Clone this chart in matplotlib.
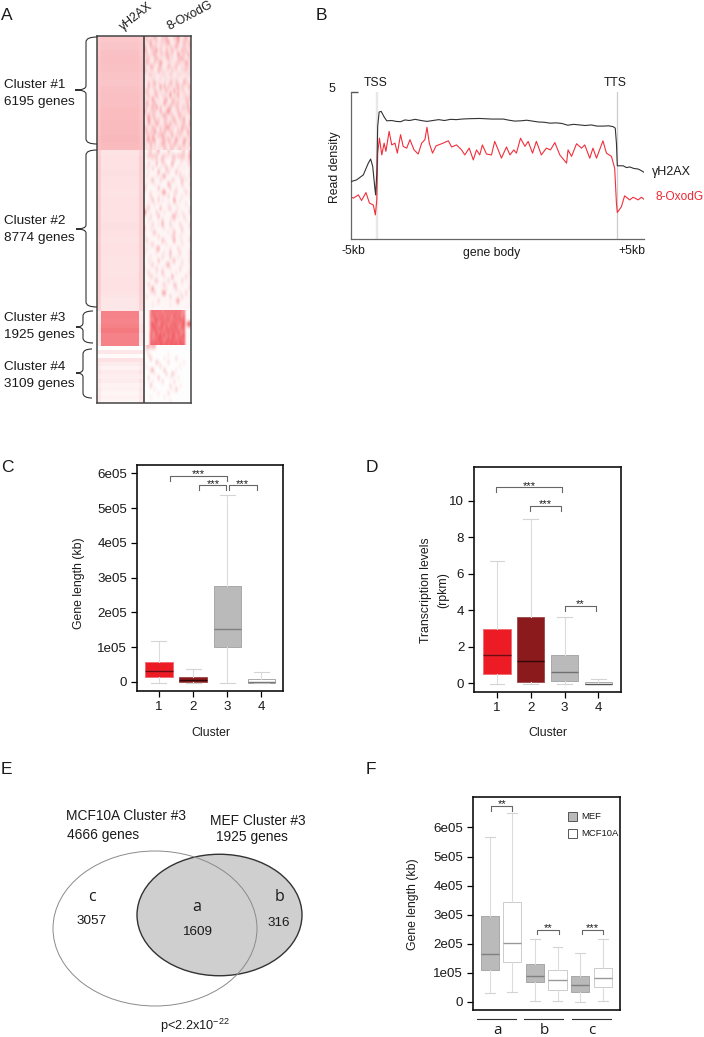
import numpy as np
import matplotlib
matplotlib.use('Agg')
import matplotlib.pyplot as plt
from matplotlib.colors import LinearSegmentedColormap
from matplotlib.patches import Ellipse, PathPatch, Rectangle
from matplotlib.path import Path

plt.rcParams['font.family'] = ['Liberation Sans', 'DejaVu Sans']
plt.rcParams['mathtext.default'] = 'regular'

# ---------- data ----------
cluster_names = ['Cluster #1', 'Cluster #2', 'Cluster #3', 'Cluster #4']
cluster_genes = [6195, 8774, 1925, 3109]
oxo_base = [.09, .04, .03, .01]

gamma_body = [
    [.26,.27,.29,.30,.29,.28,.27,.29,.30,.30,.31,.31,.32,.32,.33,.32],
    [.13,.14,.14,.15,.14,.14,.13,.14,.14,.14,.14,.15,.14,.13,.14,.14,.13,.13,.13,.14,.14,.13,.12,.12],
    [.58,.58,.57,.59,.62,.58,.58,.58],
    [.0,.12,.02,.14,.09,.06,.10,.08,.09,.06,.07,.05,.06,.05],
]
gamma_edge = [
    [.24,.25,.26,.27,.27,.26,.26,.27,.28,.27,.28,.28,.29,.29,.30,.30],
    [.20,.22,.23,.23,.23,.22,.22,.23,.23,.22,.23,.23,.23,.22,.23,.23,.22,.22,.23,.23,.23,.22,.21,.20],
    [.10,.12,.12,.14,.15,.12,.12,.10],
    [.0,.12,.02,.14,.12,.10,.13,.10,.13,.10,.12,.10,.12,.10],
]
oxo_rows = [[
    "120113100213000215001301","011300201112400013012112","200312001101020131002103",
    "310021402002103010031201","020113001203111004102031","112001310001301001231002",
    "031002014100010012101320","100320012000310120010211","210010031101002010011201",
    "001201000110020001100011","100010001001001010001100","002013010010031021003110",
    "003011004030201013020013","120002101003010402011001","012001300110050013001102",
    "101040010013001201010212","031013000041003112000120","020130402000130021012030",
    "300112003002510003010113","013021000231012001301001","014103020012001300113001",
    "003100410021030120012004","210031002013401001031201","030204102030021002120031",
    "012030021401003010200012","024033000130310041003201","100301001320020310013003",
    "010201010021012001201010"],[
    "001200130000210000012003","012222200221102212222015","000010201300001200020103",
    "002000300120004000100012","010020001003010001001001","001000040001200030100001",
    "010000100240000000201002","000130002000002100030100","010001000000410000020002",
    "200000030000020010001000","000100000350000120000201","000200010000200100010001",
    "000030020100000500100000","001001000000100010000100","012000003000120001000001",
    "600000200010000020010002","000200030000002401002000","001000000200010100000100",
    "000020010400020000200002","200100000010001000020001","000013000000100300010000",
    "100000020000002100100001","020000000310000400010002","000120000001000000010000",
    "010000240000010002000001","100000100010030000200002","000100000200020001000001",
    "001000030000001300010002","000120000002400000010001","100000200100010000200001",
    "002000100300000010000002","000210000010004000000201","000001300000200000020001",
    "002000000120000310000001","000150000001000020000002","000102000350000000100200",
    "010000000000020000020001","000000020000000025000000","000010000000010000000001",
    "000000000000000000000000"],[
    "000565656465656565645000","000657465746564756546000","000546756565746565757000",
    "000675645756465756467188","000567566647566574566000","000655746565756657546000",
    "000745667574656746567000","000656576646757565756000",
    "000766757667576675767000"],[
    "033233000000000000000000","010000000000000000000000","002000000000100000000000",
    "000300000010000020000000","000000310000200000001000","010000002000000000100000",
    "000240000030000010000000","000001000002003100000000","002000030000010001000000",
    "000010000200000200000000","000300000000020000100000","000001000000001030000000",
    "000000010000200000000000","000100000010000000000000","000000000000010000000000"]]

prof_x_black = [0,2,4.3,6,6.8,7.5,8.3,8.5,8.9,9.2,9.7,10.4,11.4,12.3,14,15.5,17,18.5,
                20,22,24,26,28,30,32,34,36,38,40,44,48,52,54,56,58,60,62,64,66,68,70,
                72,74,76,78,80,82,84,86,88,89.5,90.2,90.6,90.9,92.9,94,95.2,96.5,98,99,100]
prof_y_black = [1.95,2.01,2.18,2.58,2.72,2.47,1.67,1.50,2.24,3.83,4.32,4.34,4.15,4.02,4.03,4.00,3.99,
                4.05,4.03,4.07,4.03,4.00,4.03,4.06,4.03,4.07,4.06,4.08,4.09,4.10,4.08,4.08,4.04,4.01,
                4.02,4.04,4.01,3.98,3.97,3.94,3.95,3.93,3.87,3.90,3.88,3.86,3.88,3.84,3.84,3.85,3.82,
                3.77,3.26,2.49,2.49,2.43,2.45,2.40,2.38,2.33,2.27]
prof_x_red = [0,.9,2.6,3.7,5.2,6.4,7.7,8.4,8.9,9.2,9.8,10.6,11.4,12.0,13.1,14.0,15.1,15.9,17.0,17.9,
              19.1,20.2,21.6,23.0,24.2,25.3,26.0,26.8,27.9,29.1,31.0,33.3,34.4,36.1,37.8,38.9,40.4,
              41.8,42.9,44.0,44.9,46.3,48.0,49.1,50.3,51.4,53.1,54.3,55.6,56.5,57.9,59.4,60.5,62.0,
              63.3,65.0,66.7,68.1,69.6,71.3,73.6,74.1,75.3,77.0,78.7,79.8,81.5,82.6,83.8,86.0,87.2,
              88.9,90.0,90.6,90.9,92.3,93.4,95.1,96.3,98.0,99.1,100]
prof_y_red = [1.44,1.39,1.50,1.31,1.58,1.22,1.16,.82,1.33,2.92,3.43,2.86,3.26,2.98,3.66,3.20,3.26,2.92,3.55,3.15,
              3.09,3.38,3.03,2.89,3.26,3.38,3.80,3.26,2.92,3.17,3.24,3.34,3.13,3.20,3.03,2.86,3.09,
              2.69,3.03,2.86,3.20,2.89,2.86,3.32,3.03,2.75,3.13,2.86,3.03,2.92,3.43,3.15,3.32,2.92,
              3.32,2.86,3.09,3.03,3.28,2.86,2.58,3.03,2.81,3.24,3.09,3.20,2.75,3.09,2.75,3.34,2.92,
              2.81,2.41,1.22,.90,1.10,1.47,1.33,1.42,1.33,1.42,1.35]

c_lo = [-4e3,-4e3,-4e3,-4e3]
c_q1 = [1.5e4,0,1.0e5,-2e3]
c_med = [3.2e4,7e3,1.53e5,1e3]
c_q3 = [5.6e4,1.5e4,2.75e5,9e3]
c_hi = [1.18e5,3.8e4,5.38e5,2.9e4]

d_lo = [-.07,-.07,-.07,-.07]
d_q1 = [.47,.05,.12,-.07]
d_med = [1.52,1.2,.63,-.07]
d_q3 = [2.97,3.6,1.52,.03]
d_hi = [6.7,9.0,3.6,.22]

f_lo = [3.2e4,3.3e4,2e3,2e3,0,2e3]
f_q1 = [1.1e5,1.36e5,7e4,4e4,3.3e4,5e4]
f_med = [1.66e5,2.04e5,8.8e4,7.4e4,5.7e4,8.1e4]
f_q3 = [2.94e5,3.42e5,1.3e5,1.1e5,8.8e4,1.18e5]
f_hi = [5.66e5,6.5e5,2.18e5,1.9e5,1.7e5,2.18e5]

venn_labels = ['c', 'a', 'b']
venn_counts = ['3057', '1609', '316']
e_ticks = [0, 1e5, 2e5, 3e5, 4e5, 5e5, 6e5]
e_ticklabels = ['0', '1e05', '2e05', '3e05', '4e05', '5e05', '6e05']

# ---------- layout ----------
W, H = 704, 1037
fig = plt.figure(figsize=(W/100, H/100), dpi=100, facecolor='white')
TXT = '#1a1a1a'
FS = 9.6

def axpx(l, t, r, b, **kw):
    return fig.add_axes([l/W, 1-b/H, (r-l)/W, (b-t)/H], **kw)

# Panel A
cm = LinearSegmentedColormap.from_list('wr', ['#ffffff', '#ee2832'])
axA = axpx(97, 36, 191, 403)
axA.set_xlim(0, 94)
axA.set_ylim(sum(cluster_genes), 0)
top = 0
for i, n in enumerate(cluster_genes):
    g = n/len(gamma_body[i])
    ye = top + g*np.arange(len(gamma_body[i])+1)
    vals = np.column_stack([gamma_edge[i], gamma_body[i], gamma_edge[i]])
    axA.pcolormesh([0, 4, 42, 47], ye, vals, cmap=cm, vmin=0, vmax=1, shading='flat', lw=0)
    ox = oxo_base[i] + np.array([[int(c) for c in s.ljust(24, '0')[:24]] for s in oxo_rows[i]])/9
    axA.imshow(ox, cmap=cm, vmin=0, vmax=1, extent=[47, 94, top+n, top],
               aspect='auto', interpolation='bicubic')
    top += n
axA.set_xlim(0, 94)
axA.set_ylim(sum(cluster_genes), 0)
axA.axvline(47, color='#333333', lw=1.1)
axA.set_xticks([]); axA.set_yticks([])
for s in axA.spines.values():
    s.set_color('#444444'); s.set_linewidth(1.1)

# Panel B
axB = axpx(350.7, 92, 644, 239)
axB.set_xlim(0, 100); axB.set_ylim(0, 5)
axB.axvline(9.0, color='#e8e8e8', lw=1.7, zorder=1)
axB.axvline(90.9, color='#cccccc', lw=.9, zorder=1)
axB.plot(prof_x_black, prof_y_black, color='#333333', lw=.8, zorder=3)
axB.plot(prof_x_red, prof_y_red, color='#f0303c', lw=.8, zorder=2)
axB.set_xticks([])
axB.set_yticks([5]); axB.set_yticklabels([''])
axB.tick_params(axis='y', direction='in', length=5, color='#555555', width=1)
axB.spines['top'].set_visible(False); axB.spines['right'].set_visible(False)
for s in ['left', 'bottom']:
    axB.spines[s].set_color('#666666'); axB.spines[s].set_linewidth(.9)

def boxes(ax, lo, q1, med, q3, hi, fc, ec, mc, pos, width=.8):
    st = [dict(whislo=a, q1=b, med=c, q3=d, whishi=e, fliers=[])
          for a, b, c, d, e in zip(lo, q1, med, q3, hi)]
    r = ax.bxp(st, positions=pos, widths=width, patch_artist=True, showfliers=False,
               capwidths=width*.55, manage_ticks=False)
    for i, b in enumerate(r['boxes']):
        b.set_facecolor(fc[i]); b.set_edgecolor(ec[i]); b.set_linewidth(.7)
    for i, m in enumerate(r['medians']):
        m.set_color(mc[i]); m.set_linewidth(1.0)
    for w in r['whiskers']:
        w.set_color('#dcdcdc'); w.set_linewidth(.8); w.set_linestyle('-')
    for c in r['caps']:
        c.set_color('#d4d4d4'); c.set_linewidth(.8)

def frame(ax):
    for s in ax.spines.values():
        s.set_linewidth(1.2); s.set_color('#111111')
    ax.tick_params(length=4, width=.9, labelsize=FS, labelcolor=TXT, pad=3)

# Panel C
axC = axpx(137, 465, 283, 691)
boxes(axC, c_lo, c_q1, c_med, c_q3, c_hi,
      ['#ed1c24', '#8b1a1c', '#bababa', '#ffffff'], ['#f07078', '#a05050', '#a8a8a8', '#aaaaaa'],
      ['#6a1015', '#300808', '#808080', '#777777'], [1, 2, 3, 4])
axC.set_xlim(.357, 4.63); axC.set_ylim(-.26e5, 6.24e5)
axC.set_xticks([1, 2, 3, 4]); axC.set_yticks(e_ticks); axC.set_yticklabels(e_ticklabels)
frame(axC)

# Panel D
axD = axpx(474, 467, 621, 692)
boxes(axD, d_lo, d_q1, d_med, d_q3, d_hi,
      ['#ed1c24', '#8b1a1c', '#bababa', '#ffffff'], ['#f07078', '#a05050', '#a8a8a8', '#aaaaaa'],
      ['#6a1015', '#300808', '#707070', '#555555'], [1, 2, 3, 4])
axD.set_xlim(1-23/33.8, 1+124/33.8); axD.set_ylim(-9/18.2, 216/18.2)
axD.set_xticks([1, 2, 3, 4]); axD.set_yticks([0, 2, 4, 6, 8, 10])
frame(axD)

# Panel F
axF = axpx(473, 797, 620, 1010)
boxes(axF, f_lo, f_q1, f_med, f_q3, f_hi,
      ['#bababa', '#ffffff']*3, ['#a8a8a8', '#cccccc']*3, ['#808080', '#999999']*3,
      [1, 2, 3, 4, 5, 6])
axF.set_xlim(1-16.7/22.6, 1+130.3/22.6); axF.set_ylim(-8/29.1*1e5, 205/29.1*1e5)
axF.set_xticks([]); axF.set_yticks(e_ticks); axF.set_yticklabels(e_ticklabels)
frame(axF)

# Overlay in reference pixels
ov = fig.add_axes([0, 0, 1, 1], facecolor='none')
ov.set_xlim(0, W); ov.set_ylim(H, 0); ov.axis('off')

def T(x, y, s, ha='left', fs=FS, color=TXT, **kw):
    ov.text(x, y, s, ha=ha, va='center', fontsize=fs, color=color, **kw)

for lab, x, y in [('A', 1, 15), ('B', 316, 15), ('C', 1, 468), ('D', 366, 468),
                  ('E', 1, 770), ('F', 366, 770)]:
    T(x, y, lab, fs=12.5)

T(136, 17, 'γH2AX', ha='center', fs=8.8, rotation=38)
T(190, 16, '8-OxodG', ha='center', fs=8.8, rotation=28)

def brace(x_in, x_b, tip, y0, y1, ym):
    v = [(x_in, y0), (x_b, y0), (x_b, y0+5), (x_b, ym-4), (x_b, ym), (tip, ym),
         (x_b, ym), (x_b, ym+4), (x_b, y1-5), (x_b, y1), (x_in, y1)]
    c = [Path.MOVETO, Path.CURVE3, Path.CURVE3, Path.LINETO, Path.CURVE3, Path.CURVE3,
         Path.CURVE3, Path.CURVE3, Path.LINETO, Path.CURVE3, Path.CURVE3]
    ov.add_patch(PathPatch(Path(v, c), fc='none', ec='#333333', lw=.8))

brace(97, 86, 75, 37, 144, 90)
brace(97, 86, 76, 150, 307, 229)
brace(93, 83, 76, 311, 343, 327)
brace(92, 83, 76, 349, 398, 373)
ylab = [(85, 102), (221, 238), (318, 335), (367, 384)]
for i, (a, b) in enumerate(ylab):
    T(4, a, cluster_names[i], fs=9.7)
    T(4, b, f'{cluster_genes[i]} genes', fs=9.7)

T(376, 83, 'TSS', ha='center', fs=8.8)
T(615, 83, 'TTS', ha='center', fs=8.8)
T(332, 89, '5', ha='center', fs=9)
T(335, 167, 'Read density', ha='center', fs=8.8, rotation=90)
T(353, 251, '-5kb', ha='center', fs=8.8)
T(492, 253, 'gene body', ha='center', fs=8.8)
T(632, 251, '+5kb', ha='center', fs=8.8)
T(652, 172, 'γH2AX', fs=9.0)
T(655, 197, '8-OxodG', fs=8.6, color='#ee2832')

T(79, 583, 'Gene length (kb)', ha='center', rotation=90, fs=8.8)
T(211, 733, 'Cluster', ha='center', fs=8.8)
T(426, 590, 'Transcription levels', ha='center', rotation=90, fs=8.8)
T(443, 590, '(rpkm)', ha='center', rotation=90, fs=8.8)
T(548, 733, 'Cluster', ha='center', fs=8.8)
T(413, 904, 'Gene length (kb)', ha='center', rotation=90, fs=8.8)

def sig(x0, x1, y, h, s, tx=None):
    ov.plot([x0, x0, x1, x1], [y+h, y, y, y+h], color='#666666', lw=.8)
    ov.text((x0+x1)/2 if tx is None else tx, y-1.5, s, ha='center', va='center', fontsize=8, color=TXT)

sig(170.3, 227.3, 475.7, 5, '***', 198.7)
sig(199, 226, 485.3, 5, '***', 213)
sig(229, 256.7, 485.3, 5, '***', 242.7)
sig(496, 562.3, 487.3, 5, '***', 529)
sig(530.3, 561.3, 505.7, 5, '***', 545)
sig(564.7, 595.7, 605.7, 5, '**', 579.7)
sig(490.7, 512.3, 806, 5, '**', 502)
sig(537.3, 558.7, 929.7, 4.5, '**', 547.7)
sig(581.7, 603.3, 929.7, 4.5, '***', 592.7)

ov.add_patch(Rectangle((567.7, 812), 9.3, 9.3, fc='#bababa', ec='#555555', lw=.7))
ov.add_patch(Rectangle((567.7, 828.7), 9.3, 9.3, fc='white', ec='#555555', lw=.7))
T(581.7, 816.7, 'MEF', fs=6.8)
T(581.7, 833.3, 'MCF10A', fs=6.8)

for (x0, x1), x, s in zip([(477.3, 515.7), (524.3, 563), (572, 610.7)], [497, 544, 592], 'abc'):
    ov.plot([x0, x1], [1019, 1019], color='#333333', lw=.8)
    T(x, 1031, s, ha='center', fs=11, family='Open Sans')

# Panel E
ov.add_patch(Ellipse((219.5, 915), 165, 121.5, fc='#cfcfcf', ec='#333333', lw=1.0, zorder=1))
ov.add_patch(Ellipse((155, 928.5), 204, 155, fc='none', ec='#8a8a8a', lw=.7, zorder=2))
T(66, 816, 'MCF10A Cluster #3', fs=9.9)
T(67, 835, '4666 genes', fs=9.9)
T(210, 821, 'MEF Cluster #3', fs=9.9)
T(216, 837, '1925 genes', fs=9.9)
for (x, y1, y2), l, c in zip([(92, 897, 921), (197, 907, 932), (279, 897, 923)], venn_labels, venn_counts):
    T(x, y1, l, ha='center', fs=11.5, family='Open Sans')
    T(x, y2, c, ha='center', fs=9.7)
T(195, 1026, 'p<2.2x10$^{-22}$', ha='center', fs=9.2)

fig.savefig('out.png', dpi=100)
